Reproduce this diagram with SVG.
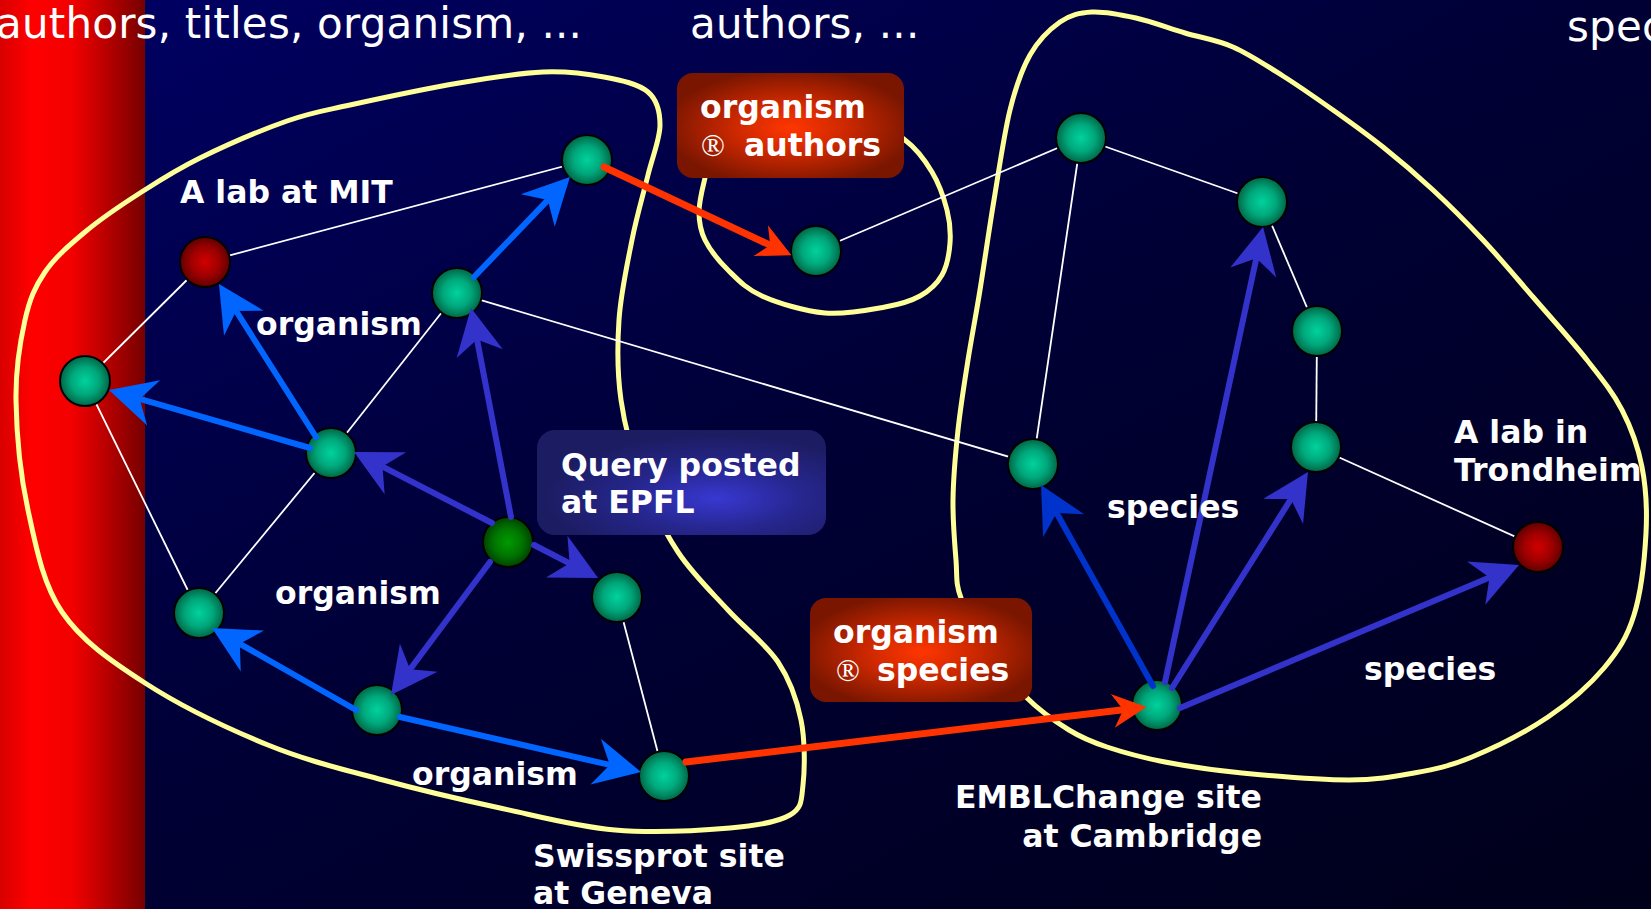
<svg xmlns="http://www.w3.org/2000/svg" width="1651" height="909" viewBox="0 0 1651 909">
  <defs>
    <linearGradient id="bg" x1="0" y1="0" x2="1" y2="1">
      <stop offset="0" stop-color="#000066"/>
      <stop offset="0.5" stop-color="#000034"/>
      <stop offset="1" stop-color="#00001a"/>
    </linearGradient>
    <linearGradient id="band" x1="0" y1="0" x2="1" y2="0">
      <stop offset="0" stop-color="#d80000"/>
      <stop offset="0.22" stop-color="#ff0000"/>
      <stop offset="0.5" stop-color="#f20000"/>
      <stop offset="1" stop-color="#760000"/>
    </linearGradient>
    <radialGradient id="gGreen" cx="0.5" cy="0.5" r="0.5">
      <stop offset="0" stop-color="#00d29c"/>
      <stop offset="0.55" stop-color="#00a87c"/>
      <stop offset="1" stop-color="#006646"/>
    </radialGradient>
    <radialGradient id="gRed" cx="0.5" cy="0.5" r="0.5">
      <stop offset="0" stop-color="#d00000"/>
      <stop offset="0.55" stop-color="#a00000"/>
      <stop offset="1" stop-color="#600000"/>
    </radialGradient>
    <radialGradient id="gQuery" cx="0.5" cy="0.5" r="0.5">
      <stop offset="0" stop-color="#009a00"/>
      <stop offset="0.55" stop-color="#007600"/>
      <stop offset="1" stop-color="#004200"/>
    </radialGradient>
    <radialGradient id="gBoxRed" cx="0.5" cy="0.52" r="0.55">
      <stop offset="0" stop-color="#ff3600"/>
      <stop offset="0.45" stop-color="#cc2800"/>
      <stop offset="1" stop-color="#7a1600"/>
    </radialGradient>
    <radialGradient id="gBoxBlue" cx="0.62" cy="0.65" r="0.6">
      <stop offset="0" stop-color="#3838d2"/>
      <stop offset="0.5" stop-color="#26268e"/>
      <stop offset="1" stop-color="#1c1c62"/>
    </radialGradient>
    <marker id="ahBlue" markerUnits="userSpaceOnUse" viewBox="-15 -24 47 48" refX="0" refY="0" markerWidth="47" markerHeight="48" orient="auto" overflow="visible">
      <path d="M32,0 L-14.5,-23.5 L0,0 L-14.5,23.5 Z" fill="#0066ff"/>
    </marker>
    <marker id="ahViolet" markerUnits="userSpaceOnUse" viewBox="-15 -24 47 48" refX="0" refY="0" markerWidth="47" markerHeight="48" orient="auto" overflow="visible">
      <path d="M32,0 L-14.5,-23.5 L0,0 L-14.5,23.5 Z" fill="#3333cc"/>
    </marker>
    <marker id="ahDeep" markerUnits="userSpaceOnUse" viewBox="-15 -24 47 48" refX="0" refY="0" markerWidth="47" markerHeight="48" orient="auto" overflow="visible">
      <path d="M32,0 L-14.5,-23.5 L0,0 L-14.5,23.5 Z" fill="#0033cc"/>
    </marker>
    <marker id="ahRed" markerUnits="userSpaceOnUse" viewBox="-11 -18 35 36" refX="0" refY="0" markerWidth="35" markerHeight="36" orient="auto" overflow="visible">
      <path d="M23.5,0 L-10.5,-17 L0,0 L-10.5,17 Z" fill="#ff3300"/>
    </marker>
  </defs>
  <style>
    .loop { fill: none; stroke: #ffff99; stroke-width: 5; }
    .link { stroke: #ffffff; stroke-width: 1.8; }
    .arr { fill: none; stroke-width: 6; stroke-linecap: round; }
    .blue { stroke: #0066ff; marker-end: url(#ahBlue); }
    .violet { stroke: #3333cc; marker-end: url(#ahViolet); }
    .deep { stroke: #0033cc; marker-end: url(#ahDeep); }
    .red { stroke: #ff3300; stroke-width: 7; marker-end: url(#ahRed); }
    .n { stroke: #000000; stroke-width: 2; }
    .green { fill: url(#gGreen); }
    .lab { fill: url(#gRed); }
    .query { fill: url(#gQuery); }
    .lbl { font-family: "DejaVu Sans", "Liberation Sans", sans-serif; font-weight: bold; font-size: 31.5px; fill: #ffffff; }
    .ttl { font-family: "DejaVu Sans", "Liberation Sans", sans-serif; font-size: 42px; letter-spacing: 0.2px; fill: #ffffff; }
    .sym { font-family: "Liberation Serif", serif; font-weight: normal; }
  </style>

  <!-- backdrop -->
  <rect x="0" y="0" width="1651" height="909" fill="url(#bg)"/>
  <rect x="0" y="0" width="145" height="909" fill="url(#band)"/>

  <!-- header texts -->
  <g id="headers">
    <text class="ttl" x="-4" y="38">authors, titles, organism, ...</text>
    <text class="ttl" x="690" y="38">authors, ...</text>
    <text class="ttl" x="1567" y="41">spec</text>
  </g>

  <!-- site boundaries -->
  <g id="sites">
    <path class="loop" d="M543,72 C567.2,71 586.5,73.7 604,77 C621.5,80.3 638.7,84 648,92 C657.3,100 660,111.2 660,125 C660,138.8 652.7,155.8 648,175 C643.3,194.2 636.8,215.8 632,240 C627.2,264.2 620.8,293.3 619,320 C617.2,346.7 617.2,373.3 621,400 C624.8,426.7 632.5,454.7 642,480 C651.5,505.3 663.7,530.3 678,552 C692.3,573.7 711.3,591.7 728,610 C744.7,628.3 765.8,643.7 778,662 C790.2,680.3 796.8,699.5 801,720 C805.2,740.5 804.8,769.2 803,785 C801.2,800.8 802.2,807.8 790,815 C777.8,822.2 759.2,825.5 730,828 C700.8,830.5 653.3,833.3 615,830 C576.7,826.7 538.7,816.3 500,808 C461.3,799.7 421.7,790.5 383,780 C344.3,769.5 307.7,761.2 268,745 C228.3,728.8 179.3,705.2 145,683 C110.7,660.8 81.5,640.8 62,612 C42.5,583.2 35.7,545.3 28,510 C20.3,474.7 16.5,431.7 16,400 C15.5,368.3 20.2,341.3 25,320 C29.8,298.7 35,286.7 45,272 C55,257.3 69.2,245.2 85,232 C100.8,218.8 120.8,205.3 140,193 C159.2,180.7 175.5,170 200,158 C224.5,146 262,129.8 287,121 C312,112.2 321.3,111.3 350,105 C378.7,98.7 426.8,88.5 459,83 C491.2,77.5 518.8,73 543,72 Z"/>
    <path class="loop" d="M705,178 C702.3,189.2 699,201.7 699,212 C699,222.3 700.2,230.3 705,240 C709.8,249.7 718.5,260.7 728,270 C737.5,279.3 745.8,288.8 762,296 C778.2,303.2 804.5,311.2 825,313 C845.5,314.8 869.2,309.8 885,307 C900.8,304.2 910.5,301.3 920,296 C929.5,290.7 937,283.8 942,275 C947,266.2 949.2,253.8 950,243 C950.8,232.2 950,221.8 947,210 C944,198.2 939,183.7 932,172 C925,160.3 917,149 905,140 C893,131 884.2,121.7 860,118 C835.8,114.3 784.2,113.5 760,118 C735.8,122.5 724.2,135 715,145 C705.8,155 707.7,166.8 705,178 Z"/>
    <path class="loop" d="M961,598 C955.3,583 957.3,576.3 956,560 C954.7,543.7 952.7,521.7 953,500 C953.3,478.3 955.5,453.3 958,430 C960.5,406.7 964.3,383.3 968,360 C971.7,336.7 975.7,316.7 980,290 C984.3,263.3 989,230 994,200 C999,170 1004,134.2 1010,110 C1016,85.8 1021.7,69.7 1030,55 C1038.3,40.3 1049.7,29.2 1060,22 C1070.3,14.8 1079.3,12.7 1092,12 C1104.7,11.3 1120.5,14.5 1136,18 C1151.5,21.5 1168.8,28.2 1185,33 C1201.2,37.8 1216.7,39.8 1233,47 C1249.3,54.2 1266.3,65.5 1283,76 C1299.7,86.5 1316.3,98.2 1333,110 C1349.7,121.8 1366.3,133.7 1383,147 C1399.7,160.3 1416.3,174.5 1433,190 C1449.7,205.5 1466.3,222.2 1483,240 C1499.7,257.8 1515.7,277 1533,297 C1550.3,317 1572.2,341.2 1587,360 C1601.8,378.8 1612.8,392.2 1622,410 C1631.2,427.8 1638,446.5 1642,467 C1646,487.5 1647.3,508.3 1646,533 C1644.7,557.7 1641,592.5 1634,615 C1627,637.5 1618.3,651 1604,668 C1589.7,685 1570,702.2 1548,717 C1526,731.8 1494.3,747.7 1472,757 C1449.7,766.3 1434.5,769.2 1414,773 C1393.5,776.8 1377.7,780 1349,780 C1320.3,780 1272.7,776 1242,773 C1211.3,770 1187.5,766.3 1165,762 C1142.5,757.7 1123,752.3 1107,747 C1091,741.7 1082.5,738.3 1069,730 C1055.5,721.7 1039.2,710.3 1026,697 C1012.8,683.7 1000.8,666.5 990,650 C979.2,633.5 966.7,614.5 961,598 Z"/>
  </g>

  <!-- connectors -->
  <g id="connectors">
    <g id="links">
      <line class="link" x1="205" y1="262" x2="587" y2="160"/>
      <line class="link" x1="205" y1="262" x2="85" y2="381"/>
      <line class="link" x1="85" y1="381" x2="199" y2="613"/>
      <line class="link" x1="331" y1="453" x2="457" y2="293"/>
      <line class="link" x1="331" y1="453" x2="199" y2="613"/>
      <line class="link" x1="457" y1="293" x2="1033" y2="464"/>
      <line class="link" x1="617" y1="597" x2="664" y2="776"/>
      <line class="link" x1="816" y1="251" x2="1081" y2="138"/>
      <line class="link" x1="1081" y1="138" x2="1262" y2="202"/>
      <line class="link" x1="1081" y1="138" x2="1033" y2="464"/>
      <line class="link" x1="1262" y1="202" x2="1317" y2="331"/>
      <line class="link" x1="1317" y1="331" x2="1316" y2="447"/>
      <line class="link" x1="1316" y1="447" x2="1538" y2="547"/>
    </g>
  </g>

  <!-- nodes -->
  <g id="node-mit"><circle class="n lab" cx="205" cy="262" r="25"/></g>
  <g id="node-a"><circle class="n green" cx="587" cy="160" r="25"/></g>
  <g id="node-authors"><circle class="n green" cx="816" cy="251" r="25"/></g>
  <g id="node-c1"><circle class="n green" cx="1081" cy="138" r="25"/></g>
  <g id="node-c2"><circle class="n green" cx="1262" cy="202" r="25"/></g>
  <g id="node-b"><circle class="n green" cx="457" cy="293" r="25"/></g>
  <g id="node-left"><circle class="n green" cx="85" cy="381" r="25"/></g>
  <g id="node-mid"><circle class="n green" cx="331" cy="453" r="25"/></g>
  <g id="node-epfl"><circle class="n query" cx="508" cy="542" r="25"/></g>
  <g id="node-s1"><circle class="n green" cx="617" cy="597" r="25"/></g>
  <g id="node-low"><circle class="n green" cx="199" cy="613" r="25"/></g>
  <g id="node-s2"><circle class="n green" cx="377" cy="710" r="25"/></g>
  <g id="node-geneva"><circle class="n green" cx="664" cy="776" r="25"/></g>
  <g id="node-c3"><circle class="n green" cx="1033" cy="464" r="25"/></g>
  <g id="node-c4"><circle class="n green" cx="1317" cy="331" r="25"/></g>
  <g id="node-c5"><circle class="n green" cx="1316" cy="447" r="25"/></g>
  <g id="node-trondheim"><circle class="n lab" cx="1538" cy="547" r="25"/></g>
  <g id="node-cambridge"><circle class="n green" cx="1157" cy="705" r="25"/></g>

  <!-- query and mapping arrows -->
  <g id="arrows">
    <line class="arr blue" x1="474" y1="277" x2="547.8" y2="200.1"/>
    <line class="arr blue" x1="316" y1="437" x2="236.1" y2="311"/>
    <line class="arr blue" x1="310" y1="448" x2="139.7" y2="398.9"/>
    <line class="arr blue" x1="356" y1="710" x2="239.8" y2="643.8"/>
    <line class="arr blue" x1="400" y1="717" x2="609.8" y2="764.9"/>
    <line class="arr violet" x1="511" y1="517" x2="477" y2="339.4"/>
    <line class="arr violet" x1="492" y1="523" x2="382.5" y2="466.6"/>
    <line class="arr violet" x1="534" y1="545" x2="569.6" y2="563.3"/>
    <line class="arr violet" x1="490" y1="562" x2="410.1" y2="669.3"/>
    <line class="arr red" x1="604" y1="167" x2="770.2" y2="245.2"/>
    <line class="arr red" x1="686" y1="762" x2="1123.2" y2="709.7"/>
    <line class="arr deep" x1="1153" y1="686" x2="1056.6" y2="513"/>
    <line class="arr violet" x1="1165" y1="682" x2="1256.3" y2="258.3"/>
    <line class="arr violet" x1="1172" y1="688" x2="1290.9" y2="499.1"/>
    <line class="arr violet" x1="1180" y1="708" x2="1489.5" y2="577.4"/>
  </g>

  <!-- mapping boxes -->
  <g id="map-authors">
    <rect x="677" y="73" width="227" height="105" rx="16" fill="url(#gBoxRed)"/>
    <text class="lbl" y="118"><tspan x="700">organism</tspan></text>
    <text class="lbl" y="156"><tspan class="sym" x="701">®</tspan><tspan x="744">authors</tspan></text>
  </g>
  <g id="map-species">
    <rect x="810" y="598" width="222" height="104" rx="16" fill="url(#gBoxRed)"/>
    <text class="lbl" y="643"><tspan x="833">organism</tspan></text>
    <text class="lbl" y="681"><tspan class="sym" x="836">®</tspan><tspan x="877">species</tspan></text>
  </g>
  <g id="query-box">
    <rect x="537" y="430" width="289" height="105" rx="18" fill="url(#gBoxBlue)"/>
    <text class="lbl" x="561" y="476">Query posted</text>
    <text class="lbl" x="561" y="513">at EPFL</text>
  </g>

  <!-- labels -->
  <g id="labels">
    <text class="lbl" x="180" y="203">A lab at MIT</text>
    <text class="lbl" x="256" y="335">organism</text>
    <text class="lbl" x="275" y="604">organism</text>
    <text class="lbl" x="412" y="785">organism</text>
    <text class="lbl" x="1107" y="518">species</text>
    <text class="lbl" x="1364" y="680">species</text>
    <text class="lbl" x="1454" y="443">A lab in</text>
    <text class="lbl" x="1454" y="481">Trondheim</text>
    <text class="lbl" x="533" y="867">Swissprot site</text>
    <text class="lbl" x="533" y="904">at Geneva</text>
    <text class="lbl" x="1262" y="808" text-anchor="end">EMBLChange site</text>
    <text class="lbl" x="1262" y="847" text-anchor="end">at Cambridge</text>
  </g>
</svg>
